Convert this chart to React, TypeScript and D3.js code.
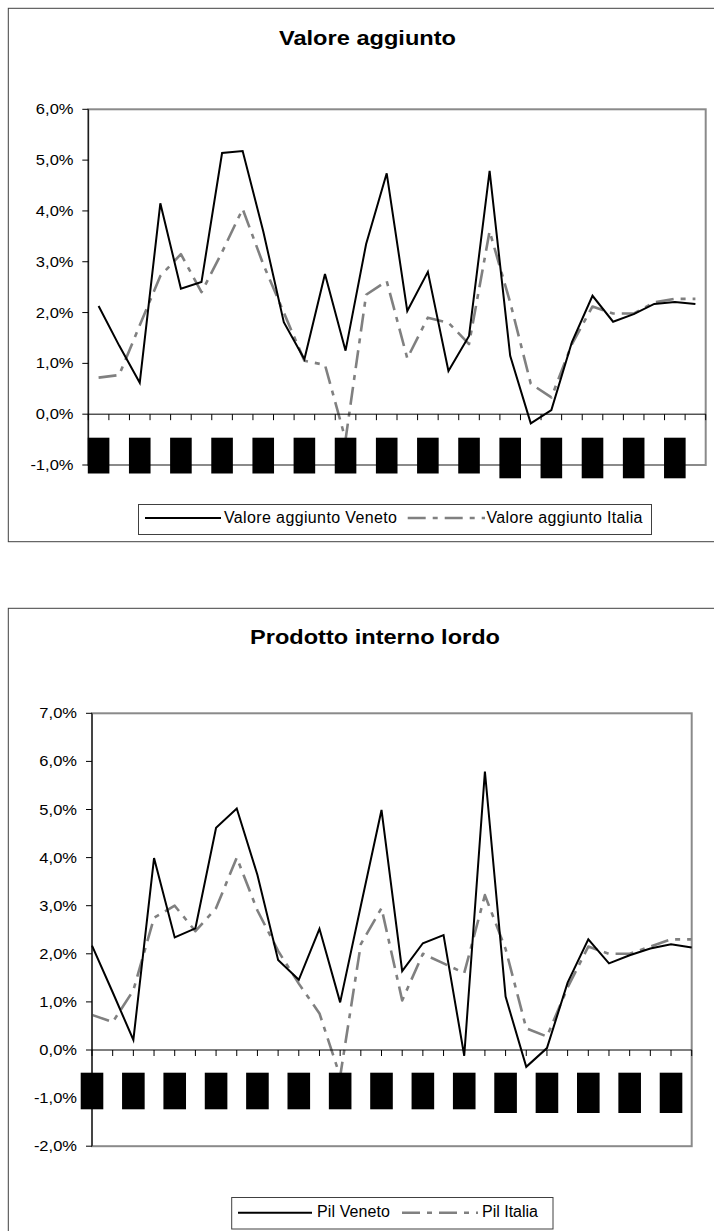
import React from "react";
import * as d3 from "d3";

const FONT = "'Liberation Sans', Arial, Helvetica, sans-serif";

// Category slots (year labels are covered by black boxes in the reference)
const categories = [
  "1980", "1981", "1982", "1983", "1984", "1985", "1986", "1987", "1988", "1989",
  "1990", "1991", "1992", "1993", "1994", "1995", "1996", "1997", "1998", "1999",
  "2000", "2001", "2002", "2003", "2004", "2005", "2006", "2007", "2008", "2009",
];

// Valore aggiunto (% change)
const vaVeneto = [
  2.13, 1.35, 0.62, 4.15, 2.47, 2.6, 5.14, 5.18, 3.6, 1.81,
  1.08, 2.76, 1.25, 3.35, 4.74, 2.03, 2.8, 0.85, 1.54, 4.79,
  1.15, -0.18, 0.08, 1.42, 2.33, 1.82, 1.97, 2.17, 2.21, 2.17,
];
const vaItalia = [
  0.72, 0.77, 1.75, 2.72, 3.15, 2.4, 3.19, 4.04, 2.95, 2.0,
  1.05, 0.97, -0.5, 2.35, 2.62, 1.1, 1.9, 1.8, 1.38, 3.6,
  2.2, 0.6, 0.33, 1.38, 2.12, 1.98, 1.98, 2.2, 2.27, 2.27,
];

// Prodotto interno lordo (% change)
const pilVeneto = [
  2.17, 1.2, 0.21, 3.99, 2.34, 2.53, 4.62, 5.02, 3.64, 1.87,
  1.46, 2.52, 0.99, 3.0, 4.99, 1.64, 2.22, 2.39, -0.12, 5.79,
  1.11, -0.35, 0.04, 1.4, 2.3, 1.8, 1.97, 2.11, 2.2, 2.13,
];
const pilItalia = [
  0.73, 0.58, 1.24, 2.75, 3.0, 2.47, 2.95, 4.0, 2.9, 2.06,
  1.38, 0.76, -0.55, 2.2, 2.95, 1.03, 2.0, 1.8, 1.6, 3.22,
  2.1, 0.45, 0.28, 1.3, 2.15, 2.0, 2.0, 2.15, 2.3, 2.3,
];

const vaTicks = [-1, 0, 1, 2, 3, 4, 5, 6];
const pilTicks = [-2, -1, 0, 1, 2, 3, 4, 5, 6, 7];

const vaLegend = ["Valore aggiunto Veneto", "Valore aggiunto Italia"];
const pilLegend = ["Pil Veneto", "Pil Italia"];

const fmt = (v: number) => `${v.toFixed(1).replace(".", ",")}%`;

const ITALIA_DASH = "18,7,5,7";

type ChartProps = {
  title: string;
  titleX: number;
  titleY: number;
  titleLen: number;
  frameY: number;
  frameH: number;
  x0: number;
  x1: number;
  yTop: number;
  yBottom: number;
  ticks: number[];
  band: boolean;
  veneto: number[];
  italia: number[];
  legendNames: string[];
  legend: {
    x: number; y: number; w: number; h: number; lineY: number; textY: number;
    l1: [number, number]; t1: number; t1Len: number;
    l2: [number, number]; t2: number; t2Len: number;
  };
  labelX: number;
  box: { w: number; top: number; bottomA: number; bottomB: number };
};

function Chart(p: ChartProps) {
  const yScale = d3
    .scaleLinear()
    .domain([p.ticks[0], p.ticks[p.ticks.length - 1]])
    .range([p.yBottom, p.yTop]);

  const idx = categories.map((_, i) => i);
  let xPos: (i: number) => number;
  let tickXs: number[];
  if (p.band) {
    const sb = d3.scaleBand<number>().domain(idx).range([p.x0, p.x1]).padding(0);
    xPos = (i) => (sb(i) as number) + sb.bandwidth() / 2;
    tickXs = [...idx.map((i) => sb(i) as number), p.x1];
  } else {
    const sp = d3.scalePoint<number>().domain(idx).range([p.x0, p.x1]).padding(0);
    xPos = (i) => sp(i) as number;
    tickXs = idx.map((i) => sp(i) as number);
  }

  const line = d3
    .line<number>()
    .x((_, i) => xPos(i))
    .y((d) => yScale(d));

  const y0 = yScale(0);
  const L = p.legend;

  return (
    <g>
      {/* outer chart frame */}
      <rect x={8.3} y={p.frameY} width={730} height={p.frameH} fill="#fff" stroke="#404040" strokeWidth={1} />
      <text
        x={p.titleX}
        y={p.titleY}
        textAnchor="middle"
        fontFamily={FONT}
        fontWeight="bold"
        fontSize={21}
        textLength={p.titleLen}
        lengthAdjust="spacingAndGlyphs"
        fill="#000"
      >
        {p.title}
      </text>

      {/* plot area border */}
      <rect
        x={p.x0}
        y={p.yTop}
        width={p.x1 - p.x0}
        height={p.yBottom - p.yTop}
        fill="#fff"
        stroke="#8a8a8a"
        strokeWidth={2}
      />

      {/* series */}
      <path d={line(p.italia) || ""} fill="none" stroke="#808080" strokeWidth={2.6} strokeDasharray={ITALIA_DASH} strokeLinejoin="round" />
      <path d={line(p.veneto) || ""} fill="none" stroke="#000" strokeWidth={2} strokeLinejoin="miter" />

      {/* x axis at zero */}
      <line x1={p.x0} x2={p.x1} y1={y0} y2={y0} stroke="#000" strokeWidth={1} />
      {tickXs.map((tx, i) => (
        <line key={i} x1={tx} x2={tx} y1={y0} y2={y0 + 6} stroke="#000" strokeWidth={1} />
      ))}

      {/* y axis */}
      <line x1={p.x0} x2={p.x0} y1={p.yTop} y2={p.yBottom} stroke="#000" strokeWidth={1} />
      {p.ticks.map((t) => (
        <g key={t}>
          <line x1={p.x0 - 6} x2={p.x0} y1={yScale(t)} y2={yScale(t)} stroke="#000" strokeWidth={1} />
          <text
            transform={`translate(${p.labelX},${yScale(t) + 5}) scale(1.18,1)`}
            textAnchor="end"
            fontFamily={FONT}
            fontSize={14}
            fill="#000"
          >
            {fmt(t)}
          </text>
        </g>
      ))}

      {/* black boxes covering the category labels */}
      {idx
        .filter((i) => i % 2 === 0)
        .map((i) => (
          <rect
            key={i}
            x={xPos(i) - p.box.w / 2}
            y={p.box.top}
            width={p.box.w}
            height={(i >= 20 ? p.box.bottomB : p.box.bottomA) - p.box.top}
            fill="#000"
          />
        ))}

      {/* legend */}
      <rect x={L.x} y={L.y} width={L.w} height={L.h} fill="#fff" stroke="#404040" strokeWidth={1} />
      <line x1={L.l1[0]} x2={L.l1[1]} y1={L.lineY} y2={L.lineY} stroke="#000" strokeWidth={2} />
      <text x={L.t1} y={L.textY} fontFamily={FONT} fontSize={16} textLength={L.t1Len} lengthAdjust="spacing" fill="#000">
        {p.legendNames[0]}
      </text>
      <line x1={L.l2[0]} x2={L.l2[1]} y1={L.lineY} y2={L.lineY} stroke="#808080" strokeWidth={2.6} strokeDasharray={ITALIA_DASH} />
      <text x={L.t2} y={L.textY} fontFamily={FONT} fontSize={16} textLength={L.t2Len} lengthAdjust="spacing" fill="#000">
        {p.legendNames[1]}
      </text>
    </g>
  );
}

export default function App() {
  return (
    <svg
      width={714}
      height={1231}
      viewBox="0 0 714 1231"
      style={{ position: "absolute", left: 0, top: 0, background: "#fff" }}
    >
      <rect x={0} y={0} width={714} height={1231} fill="#fff" />
      <Chart
        title="Valore aggiunto"
        titleX={367.5}
        titleY={45}
        titleLen={177}
        frameY={8.3}
        frameH={533.4}
        x0={88.3}
        x1={705.7}
        yTop={109.3}
        yBottom={465}
        ticks={vaTicks}
        band={true}
        veneto={vaVeneto}
        italia={vaItalia}
        legendNames={vaLegend}
        labelX={73.5}
        box={{ w: 21.6, top: 437.7, bottomA: 473.5, bottomB: 478.3 }}
        legend={{
          x: 138.5, y: 504.5, w: 513, h: 30, lineY: 518, textY: 522.5,
          l1: [145, 221], t1: 224, t1Len: 173,
          l2: [407.7, 485], t2: 486.5, t2Len: 156,
        }}
      />
      <Chart
        title="Prodotto interno lordo"
        titleX={375}
        titleY={644}
        titleLen={250}
        frameY={608.3}
        frameH={700}
        x0={92}
        x1={691.7}
        yTop={713.3}
        yBottom={1146.2}
        ticks={pilTicks}
        band={false}
        veneto={pilVeneto}
        italia={pilItalia}
        legendNames={pilLegend}
        labelX={77}
        box={{ w: 22.6, top: 1072.7, bottomA: 1109.3, bottomB: 1113 }}
        legend={{
          x: 231.7, y: 1197.5, w: 321.3, h: 31.5, lineY: 1212.7, textY: 1217.3,
          l1: [238, 312], t1: 317, t1Len: 73,
          l2: [402, 478], t2: 482, t2Len: 56,
        }}
      />
    </svg>
  );
}
